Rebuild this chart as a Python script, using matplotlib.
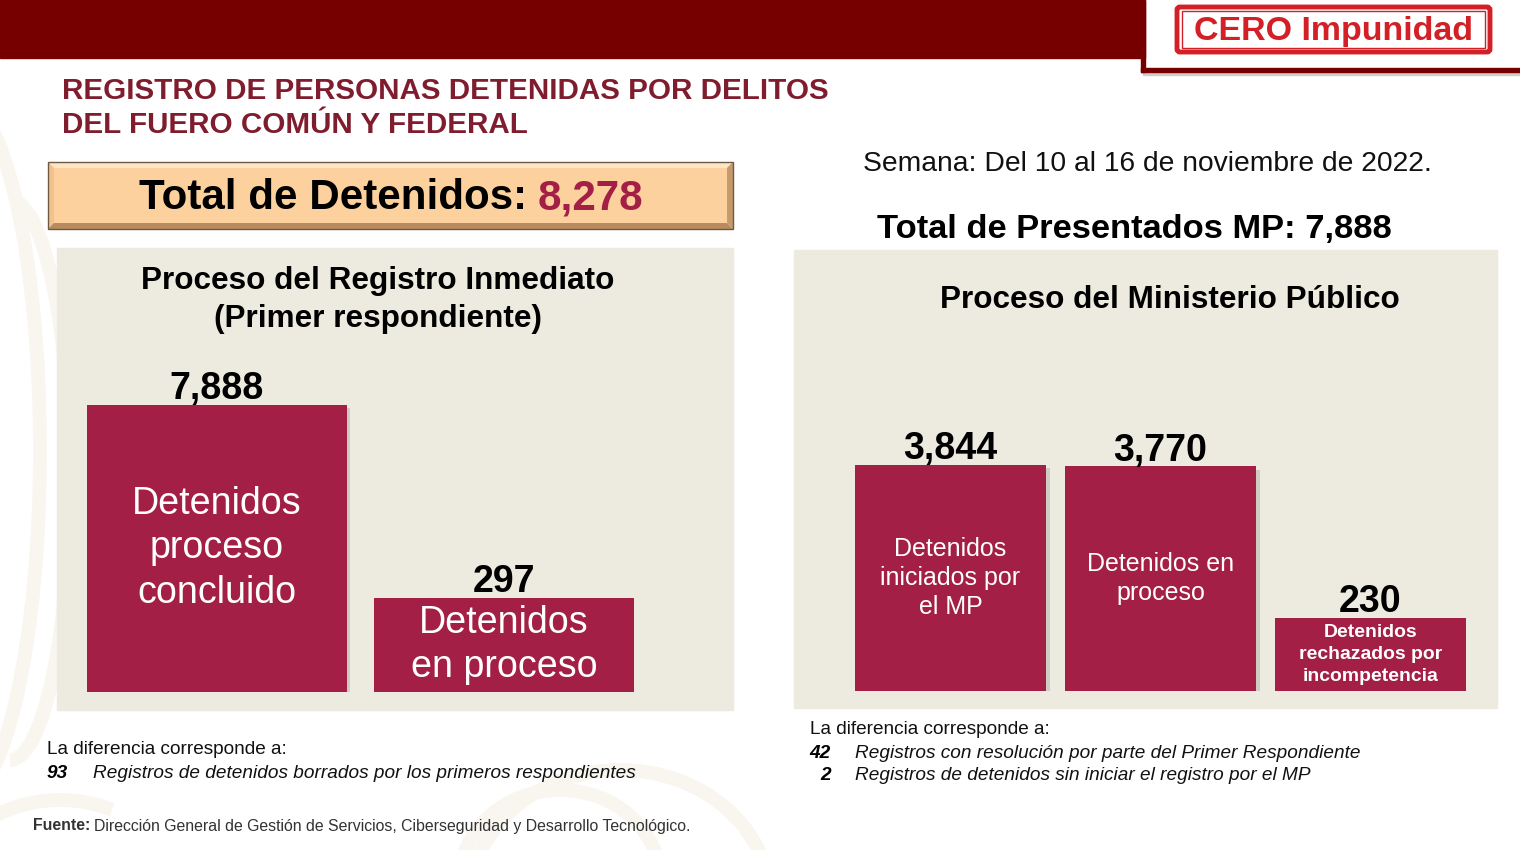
import numpy as np
import matplotlib
matplotlib.use("Agg")
import matplotlib.pyplot as plt
from matplotlib import font_manager
from matplotlib.patches import Rectangle, FancyBboxPatch, Polygon, Arc
import matplotlib.patheffects as pe

# ---- data ----
total_detenidos = 8278
total_presentados = 7888
semana = "Semana: Del 10 al 16 de noviembre de 2022."

rp_labels = ["Detenidos\nproceso\nconcluido", "Detenidos\nen proceso"]
rp_values = [7888, 297]

mp_labels = ["Detenidos\niniciados por\nel MP", "Detenidos en\nproceso",
             "Detenidos\nrechazados por\nincompetencia"]
mp_values = [3844, 3770, 230]

dif_rp_counts = [93]
dif_rp_texts = ["Registros de detenidos borrados por los primeros respondientes"]
dif_mp_counts = [42, 2]
dif_mp_texts = ["Registros con resolución por parte del Primer Respondiente",
                "Registros de detenidos sin iniciar el registro por el MP"]

fuente = "Dirección General de Gestión de Servicios, Ciberseguridad y Desarrollo Tecnológico."

# ---- style ----
W, H = 1520, 850
BAND = "#760000"
TITLE_C = "#7f1d2e"
BAR_C = "#a31f45"
PANEL_C = "#edeae0"
BASE = 60  # bottom of the log scale

plt.rcParams['font.family'] = ['Liberation Sans', 'DejaVu Sans']
names = {f.name for f in font_manager.fontManager.ttflist}
NARROW = 'Liberation Sans Narrow' if 'Liberation Sans Narrow' in names else 'Liberation Sans'
k = 1.0 if NARROW == 'Liberation Sans Narrow' else 0.82

fig = plt.figure(figsize=(15.2, 8.5), dpi=100)
bg = fig.add_axes([0, 0, 1, 1])
bg.set_xlim(0, W)
bg.set_ylim(H, 0)
bg.axis('off')

# faint watermark strokes
wm = "#f9f6f0"
for (cx, cy, w, h, t1, t2) in [(-40, 450, 160, 700, -90, 90), (10, 480, 120, 560, -90, 90),
                                (620, 900, 300, 260, 180, 360), (560, 880, 200, 180, 180, 360),
                                (60, 900, 240, 200, 180, 300)]:
    bg.add_patch(Arc((cx, cy), w, h, theta1=t1, theta2=t2, color=wm, lw=10, zorder=0))

# top band and logo box
bg.add_patch(Rectangle((0, 0), 1145, 58, color=BAND, zorder=1))
bg.add_patch(Rectangle((1141, 0), 4, 72, color=BAND, zorder=2))
bg.add_patch(Rectangle((1141, 68), 379, 4, color=BAND, zorder=2))
bg.add_patch(Rectangle((1143, 72), 377, 3, color="#cfcfcf", zorder=1))
bg.add_patch(FancyBboxPatch((1177, 7), 313, 45, boxstyle="round,pad=0,rounding_size=3",
                            fc="white", ec="#d32027", lw=3.5, zorder=2))
bg.add_patch(Rectangle((1182, 11), 303, 37, fc="none", ec="#d32027", lw=1, zorder=2))
bg.text(1333, 31, "CERO Impunidad", color="#d32027", fontsize=24.5, fontweight="heavy",
        ha="center", va="center", zorder=3)

# main title
bg.text(62, 108, "REGISTRO DE PERSONAS DETENIDAS POR DELITOS\nDEL FUERO COMÚN Y FEDERAL",
        color=TITLE_C, fontsize=21.3, fontweight="bold", ha="left", va="center",
        linespacing=1.27)

# peach total box with bevel
bx0, by0, bx1, by1, bv = 48, 162, 733, 229, 6
bg.add_patch(Rectangle((bx0, by0), bx1 - bx0, by1 - by0, fc="#fcd19e", ec="none", zorder=1))
bg.add_patch(Polygon([(bx0, by0), (bx1, by0), (bx1 - bv, by0 + bv), (bx0 + bv, by0 + bv)],
                     fc="#fde6c8", ec="none", zorder=2))
bg.add_patch(Polygon([(bx0, by0), (bx0 + bv, by0 + bv), (bx0 + bv, by1 - bv), (bx0, by1)],
                     fc="#f3c28c", ec="none", zorder=2))
bg.add_patch(Polygon([(bx0, by1), (bx0 + bv, by1 - bv), (bx1 - bv, by1 - bv), (bx1, by1)],
                     fc="#b88c60", ec="none", zorder=2))
bg.add_patch(Polygon([(bx1, by0), (bx1, by1), (bx1 - bv, by1 - bv), (bx1 - bv, by0 + bv)],
                     fc="#c79a6c", ec="none", zorder=2))
bg.add_patch(Rectangle((bx0, by0), bx1 - bx0, by1 - by0, fc="none", ec="#6e5a44", lw=1, zorder=3))
t_tot = bg.text(527, 198, "Total de Detenidos:", fontsize=37 * k, fontweight="bold",
                family=NARROW, ha="right", va="center", zorder=4)
bg.annotate(f"{total_detenidos:,}", xy=(1, 0), xycoords=t_tot, xytext=(8, 0),
            textcoords="offset points", fontsize=37 * k, fontweight="bold", family=NARROW,
            color=BAR_C, ha="left", va="bottom", zorder=4)

# right-side headers
bg.text(1147, 164, semana, fontsize=20.3, ha="center", va="center", color="#111111")
bg.text(1134, 229, f"Total de Presentados MP: {total_presentados:,}", fontsize=24.8,
        fontweight="bold", ha="center", va="center")

# panels
bg.add_patch(Rectangle((57, 248), 676, 462, color=PANEL_C, zorder=1))
bg.add_patch(Rectangle((794, 250), 703, 458, color=PANEL_C, zorder=1))
bg.text(378, 300, "Proceso del Registro Inmediato\n(Primer respondiente)", fontsize=22.7,
        fontweight="bold", ha="center", va="center", linespacing=1.33, zorder=2)
bg.text(1170, 300, "Proceso del Ministerio Público", fontsize=22.7, fontweight="bold",
        ha="center", va="center", zorder=2)


def px_axes(x0, y0, x1, y1):
    return fig.add_axes([x0 / W, 1 - y1 / H, (x1 - x0) / W, (y1 - y0) / H])


def draw_bars(ax, values, labels, width, label_sizes, label_bold, spacing):
    x = np.arange(len(values))
    bars = ax.bar(x, np.array(values) - BASE, bottom=BASE, width=width, color=BAR_C,
                  linewidth=0, zorder=2)
    for b in bars:
        b.set_path_effects([pe.SimplePatchShadow(offset=(2.5, -2.5), shadow_rgbFace="#888888",
                                                 alpha=0.3), pe.Normal()])
    ax.set_yscale("log")
    ax.set_ylim(BASE, max(values))
    ax.set_xlim(-width / 2, len(values) - 1 + width / 2)
    ax.axis("off")
    ax.patch.set_alpha(0)
    for i, (b, v, lbl) in enumerate(zip(bars, values, labels)):
        ax.annotate(f"{v:,}", xy=(i, v), xytext=(0, 4), textcoords="offset points",
                    ha="center", va="baseline", fontsize=33 * k, fontweight="bold",
                    family=NARROW, annotation_clip=False)
        ax.annotate(lbl, xy=(0.5, 0.5), xycoords=b, ha="center", va="center",
                    color="white", fontsize=label_sizes[i] * k, family=NARROW,
                    fontweight="bold" if label_bold[i] else "normal",
                    linespacing=spacing[i])


ax_rp = px_axes(87, 405, 634, 692)
draw_bars(ax_rp, rp_values, rp_labels, 0.905, [33, 33], [False, False], [1.29, 1.29])

ax_mp = px_axes(855, 465, 1466, 691)
draw_bars(ax_mp, mp_values, mp_labels, 0.91, [22, 22, 17], [False, False, True],
          [1.28, 1.28, 1.38])

# notes
bg.text(47, 750, "La diferencia corresponde a:", fontsize=13.7, va="center", color="#111111")
for j, (c, t) in enumerate(zip(dif_rp_counts, dif_rp_texts)):
    bg.text(68, 773 + 22 * j, str(c), fontsize=13.7, fontweight="bold", style="italic",
            ha="right", va="center")
    bg.text(93, 773 + 22 * j, t, fontsize=13.7, style="italic", va="center", color="#111111")

bg.text(810, 730, "La diferencia corresponde a:", fontsize=13.7, va="center", color="#111111")
for j, (c, t) in enumerate(zip(dif_mp_counts, dif_mp_texts)):
    bg.text(831, 753 + 22 * j, str(c), fontsize=13.7, fontweight="bold", style="italic",
            ha="right", va="center")
    bg.text(855, 753 + 22 * j, t, fontsize=13.7, style="italic", va="center", color="#111111")

t_f = bg.text(33, 826, "Fuente:", fontsize=13.9 * k, fontweight="bold", family=NARROW,
              color="#333333", va="center")
bg.annotate(fuente, xy=(1, 0), xycoords=t_f, xytext=(3, 0), textcoords="offset points",
            fontsize=13.9 * k, family=NARROW, color="#333333", va="bottom")

fig.savefig("out.png", dpi=100)
